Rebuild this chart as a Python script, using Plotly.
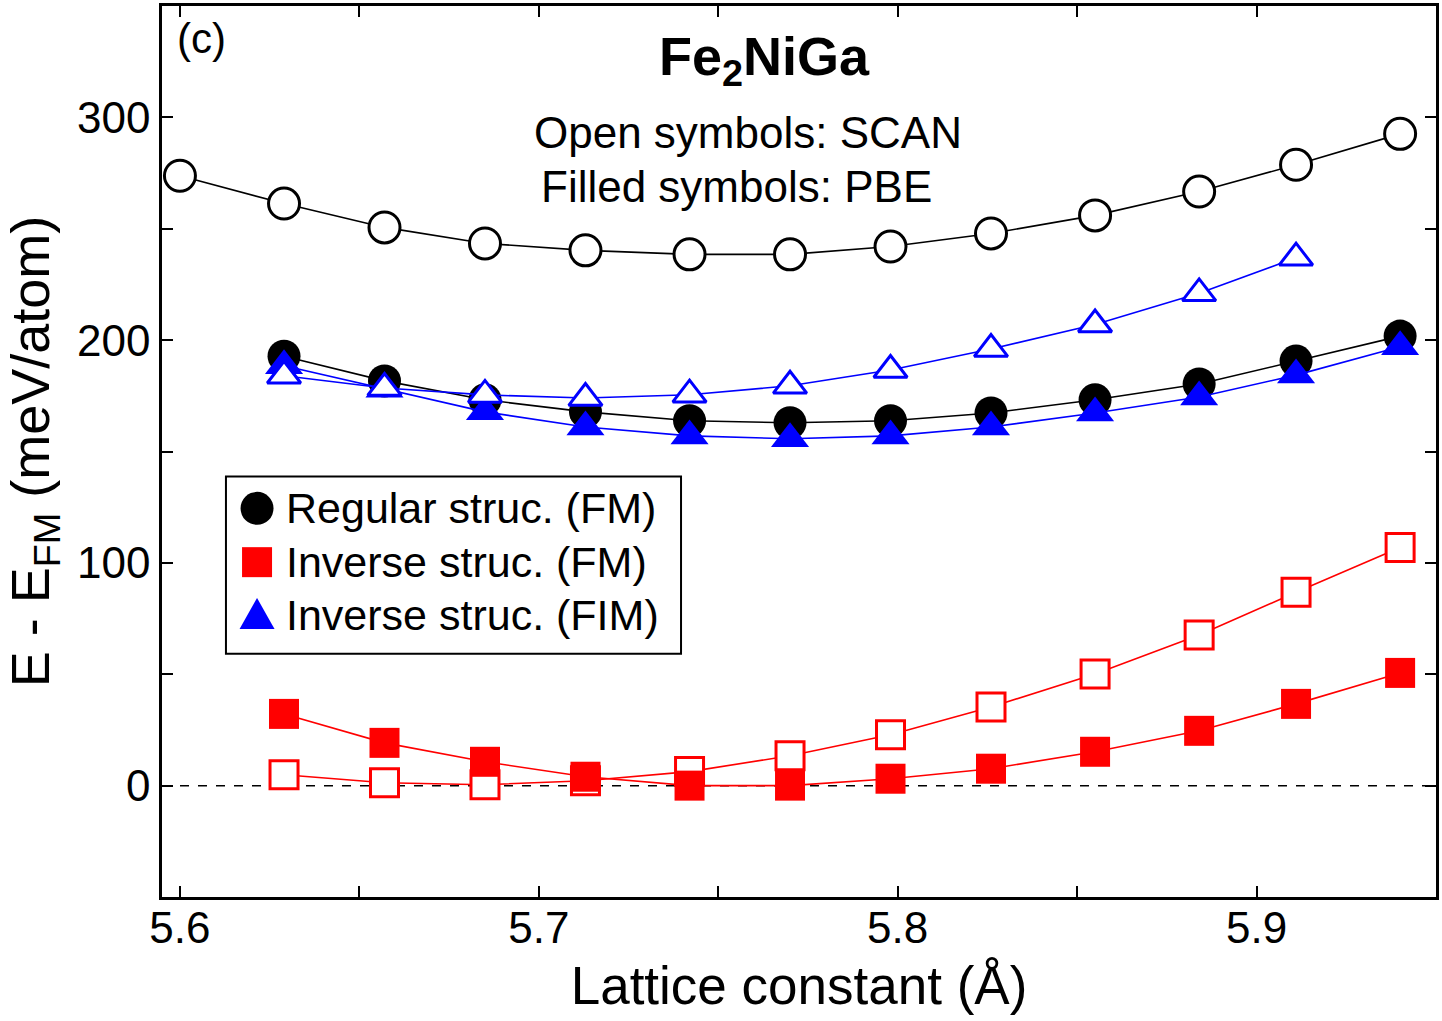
import plotly.graph_objects as go

# Lattice constants (Å)
a_full = [5.600, 5.629, 5.657, 5.685, 5.713, 5.742, 5.770, 5.798, 5.826, 5.855, 5.884, 5.911, 5.940]
a_main = a_full[1:]
a_fim_scan = a_full[1:12]

# Regular structure (FM)
reg_scan = [273.8, 261.3, 250.6, 243.4, 240.3, 238.5, 238.5, 242.0, 247.9, 256.0, 266.7, 278.7, 292.6]
reg_pbe = [192.8, 181.7, 173.2, 167.8, 163.8, 162.9, 163.8, 167.3, 173.2, 180.3, 190.6, 201.8]

# Inverse structure (FIM)
fim_scan = [184.0, 178.5, 175.4, 174.0, 175.5, 179.5, 186.6, 196.0, 207.0, 221.0, 237.0]
fim_pbe = [188.5, 178.0, 167.8, 161.0, 157.0, 155.7, 157.0, 161.0, 167.3, 174.5, 184.3, 197.0]

# Inverse structure (FM)
inv_scan = [4.9, 1.3, 0.4, 2.2, 6.3, 13.4, 22.8, 35.3, 50.1, 67.6, 86.8, 106.9]
inv_pbe = [32.2, 19.2, 10.7, 4.0, 0.0, 0.0, 3.1, 7.6, 15.2, 24.6, 36.7, 50.6]

legend_names = ["Regular struc. (FM)", "Inverse struc. (FM)", "Inverse struc. (FIM)"]

BLACK = "#000000"
RED = "#ff0000"
BLUE = "#0000ff"
FONT = "Liberation Sans, Arial, Helvetica, sans-serif"

fig = go.Figure()

# zero reference line
fig.add_hline(y=0, line=dict(color="black", width=1.5, dash="dash"), layer="below")


def add_open(x, y, color, symbol, size):
    fig.add_trace(go.Scatter(
        x=x, y=y, mode="lines+markers", showlegend=False,
        line=dict(color=color, width=1.6),
        marker=dict(symbol=symbol, size=size, color="white",
                    line=dict(color=color, width=3)),
    ))


def add_filled(x, y, color, symbol, size):
    fig.add_trace(go.Scatter(
        x=x, y=y, mode="lines+markers", showlegend=False,
        line=dict(color=color, width=1.6),
        marker=dict(symbol=symbol, size=size, color=color, line=dict(width=0)),
    ))


add_open(a_full, reg_scan, BLACK, "circle", 31)
add_open(a_main, inv_scan, RED, "square", 28)
add_filled(a_main, inv_pbe, RED, "square", 30)
add_filled(a_main, reg_pbe, BLACK, "circle", 33)
add_filled(a_main, fim_pbe, BLUE, "triangle-up", 33)
add_open(a_fim_scan, fim_scan, BLUE, "triangle-up", 29)

# ---- text annotations ----
annotations = [
    dict(text="(c)", x=0.010, y=0.964, xanchor="left", yanchor="middle",
         font=dict(size=42)),
    dict(text="<b>Fe<sub>2</sub>NiGa</b>", x=0.473, y=0.939, xanchor="center", yanchor="middle",
         font=dict(size=54)),
    dict(text="Open symbols: SCAN", x=0.460, y=0.8577, xanchor="center", yanchor="middle",
         font=dict(size=44)),
    dict(text="Filled symbols: PBE", x=0.451, y=0.7973, xanchor="center", yanchor="middle",
         font=dict(size=44)),
]
for an in annotations:
    fig.add_annotation(xref="paper", yref="paper", showarrow=False, **an)

# ---- manual legend (box, glyphs, labels) ----
leg_x0, leg_x1, leg_y0, leg_y1 = 0.0502, 0.4074, 0.273, 0.472
row_y = [0.4362, 0.3758, 0.3166]
glyph_x = 0.0746
text_x = 0.0960
fig.add_shape(type="rect", xref="paper", yref="paper", x0=leg_x0, x1=leg_x1, y0=leg_y0, y1=leg_y1,
              line=dict(color="black", width=2), fillcolor="white", layer="above")
fig.add_shape(type="circle", xref="paper", yref="paper", xsizemode="pixel", ysizemode="pixel",
              xanchor=glyph_x, yanchor=row_y[0], x0=-16.5, x1=16.5, y0=-16.5, y1=16.5,
              fillcolor=BLACK, line=dict(width=0), layer="above")
fig.add_shape(type="rect", xref="paper", yref="paper", xsizemode="pixel", ysizemode="pixel",
              xanchor=glyph_x, yanchor=row_y[1], x0=-15, x1=15, y0=-15, y1=15,
              fillcolor=RED, line=dict(width=0), layer="above")
fig.add_shape(type="path", xref="paper", yref="paper", xsizemode="pixel", ysizemode="pixel",
              xanchor=glyph_x, yanchor=row_y[2], path="M -17.5,-14 L 17.5,-14 L 0,17 Z",
              fillcolor=BLUE, line=dict(width=0), layer="above")
for name, yy in zip(legend_names, row_y):
    fig.add_annotation(xref="paper", yref="paper", showarrow=False, text=name,
                       x=text_x, y=yy, xanchor="left", yanchor="middle",
                       font=dict(size=43, color="black"))

axis_common = dict(
    showline=True, linecolor="black", linewidth=2.5, mirror="allticks",
    ticks="inside", ticklen=11, tickwidth=1.6, tickcolor="black",
    showgrid=False, zeroline=False,
    tickfont=dict(size=44, color="black"),
)

fig.update_xaxes(
    range=[5.595, 5.95], tickmode="array", tickvals=[5.6, 5.7, 5.8, 5.9],
    ticktext=["5.6", "5.7", "5.8", "5.9"],
    ticklabelstandoff=-10,
    minor=dict(ticks="inside", tickvals=[5.65, 5.75, 5.85], ticklen=11, tickwidth=1.6,
               tickcolor="black", showgrid=False),
    title=dict(text="Lattice constant (Å)", font=dict(size=53, color="black"), standoff=17),
    **axis_common,
)
fig.update_yaxes(
    range=[-50, 350], tickmode="array", tickvals=[0, 100, 200, 300],
    ticktext=["0", "100", "200", "300"],
    minor=dict(ticks="inside", tickvals=[-50, 50, 150, 250], ticklen=11, tickwidth=1.6,
               tickcolor="black", showgrid=False),
    title=dict(text="E - E<sub>FM</sub> (meV/atom)", font=dict(size=54, color="black"), standoff=20),
    **axis_common,
)

fig.update_layout(
    width=1442, height=1021,
    margin=dict(l=162, r=6, t=3, b=124),
    plot_bgcolor="white", paper_bgcolor="white",
    font=dict(family=FONT, color="black"),
    showlegend=False,
)

fig.write_html("out.html")
